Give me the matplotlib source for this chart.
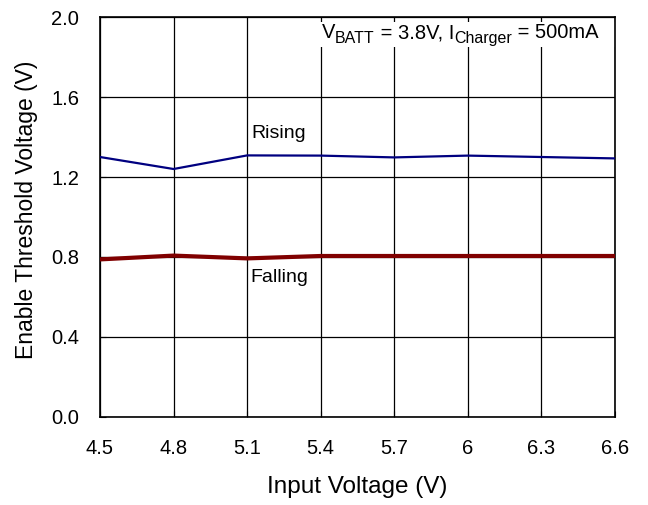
import matplotlib
matplotlib.use("Agg")
import matplotlib.pyplot as plt
from matplotlib.patches import Rectangle

plt.rcParams["font.family"] = ["Liberation Sans", "DejaVu Sans"]

input_voltage = [4.5, 4.8, 5.1, 5.4, 5.7, 6.0, 6.3, 6.6]
rising = [1.30, 1.24, 1.308, 1.307, 1.298, 1.307, 1.300, 1.293]
falling = [0.788, 0.807, 0.793, 0.805, 0.805, 0.805, 0.805, 0.805]

x_ticks = [4.5, 4.8, 5.1, 5.4, 5.7, 6.0, 6.3, 6.6]
x_tick_labels = ["4.5", "4.8", "5.1", "5.4", "5.7", "6", "6.3", "6.6"]
y_ticks = [0.0, 0.4, 0.8, 1.2, 1.6, 2.0]
y_tick_labels = ["0.0", "0.4", "0.8", "1.2", "1.6", "2.0"]

# condition text: (text, font size, baseline offset in points)
condition_parts = [("V", 14.5, 0), ("BATT", 11.5, -3),
                   (" = 3.8V, I", 14.5, 0), ("Charger", 11.5, -3),
                   (" = 500mA", 14.5, 0)]

fig = plt.figure(figsize=(6.48, 5.05), dpi=100)
ax = fig.add_axes([0.1543, 0.1743, 0.7947, 0.792])

ax.plot(input_voltage, rising, color="#000080", lw=1.6, zorder=3)
ax.plot(input_voltage, falling, color="#800000", lw=3.0, zorder=3)

ax.set_xlim(4.5, 6.6)
ax.set_ylim(0.0, 2.0)
ax.set_xticks(x_ticks)
ax.set_xticklabels(x_tick_labels)
ax.set_yticks(y_ticks)
ax.set_yticklabels(y_tick_labels)
ax.tick_params(direction="in", length=4, labelsize=14.5, colors="black")
ax.tick_params(axis="x", pad=16)
ax.tick_params(axis="y", pad=15)
ax.grid(True, color="black", lw=0.9)
for s in ax.spines.values():
    s.set_linewidth(1.2)
    s.set_color("black")

ax.set_xlabel("Input Voltage (V)", fontsize=17.5, labelpad=13)
ax.set_ylabel("Enable Threshold Voltage (V)", fontsize=16.5)
ax.yaxis.set_label_coords(-0.121, 0.519)

ax.text(5.118, 1.42, "Rising", fontsize=14, ha="left", va="center")
ax.text(5.112, 0.695, "Falling", fontsize=14, ha="left", va="center")

# white box behind the test conditions
ax.add_patch(Rectangle((0.408, 0.925), 0.592, 0.0625, transform=ax.transAxes,
                       facecolor="white", edgecolor="none", zorder=2))

prev = None
prev_dy = 0
for text, size, dy in condition_parts:
    if prev is None:
        prev = ax.text(0.4305, 0.9475, text, fontsize=size, ha="left",
                       va="baseline", transform=ax.transAxes, zorder=4)
    else:
        prev = ax.annotate(text, xy=(1, 0), xycoords=prev,
                           xytext=(0, dy - prev_dy), textcoords="offset points",
                           fontsize=size, ha="left", va="bottom", zorder=4)
    prev_dy = dy

fig.savefig("out.png", dpi=100)
